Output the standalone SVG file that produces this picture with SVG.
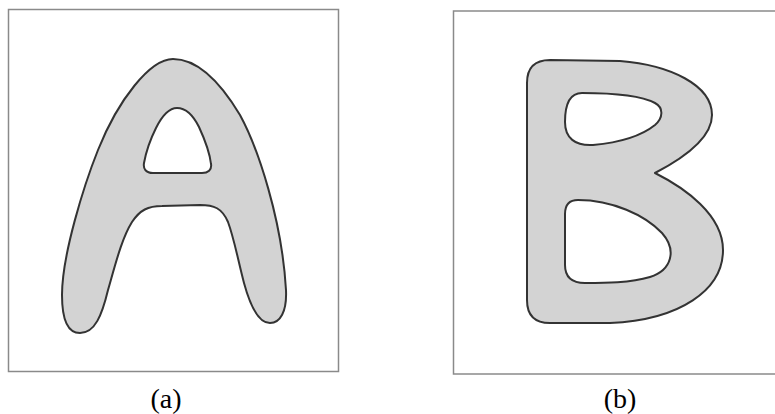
<svg xmlns="http://www.w3.org/2000/svg" width="775" height="414" viewBox="0 0 775 414">
<style>
.frame{fill:none;stroke:#8a8a8a;stroke-width:1.5}
.glyph{fill:#d3d3d3;stroke:#333;stroke-width:2;fill-rule:evenodd;stroke-linejoin:round}
.lbl{font-family:"Liberation Serif","Times New Roman",serif;font-size:28px;fill:#000;text-anchor:middle}
</style>
<rect width="775" height="414" fill="#fff"/>
<g id="panel-a">
<rect class="frame" x="8.5" y="9.5" width="330" height="362"/>
<path class="glyph" d="M 173,59 C 200,59 222,85 240,115 C 258,148 282,220 286,290 C 287,312 280,323 270,323 C 258,323 250,305 244,283 C 238,260 234,238 228,222 C 222,208 214,205 200,205 L 162,206 C 148,206 140,210 132,222 C 122,238 116,262 108,290 C 102,315 95,333 80,333 C 68,333 62,320 62,295 C 62,255 84,185 98,150 C 118,100 150,59 173,59 Z M 177,108 C 186,108 193,115 199,127 C 205,140 210,155 211,164 C 212,170 208,173 202,173 L 153,173 C 146,173 143,169 144,163 C 146,152 150,140 156,128 C 162,116 169,108 177,108 Z"/>
<text class="lbl" x="166" y="408">(a)</text>
</g>
<g id="panel-b">
<rect class="frame" x="453.5" y="11" width="330" height="363"/>
<path class="glyph" d="M 550,60 L 620,61 C 670,65 712,85 712,115 C 712,140 680,160 655,173 C 685,188 723,215 723,250 C 723,290 680,320 610,323 L 550,323 C 535,323 527,315 527,300 L 527,83 C 527,68 535,60 550,60 Z M 582,93 C 610,93 640,95 655,103 C 664,108 663,118 655,125 C 640,137 615,143 593,145 C 575,146 565,138 565,122 C 565,103 570,93 582,93 Z M 578,200 C 612,200 645,215 662,233 C 677,250 672,270 650,277 C 630,283 605,283 585,283 C 570,283 565,276 565,265 L 565,214 C 565,205 569,200 578,200 Z"/>
<text class="lbl" x="620" y="408">(b)</text>
</g>
</svg>
